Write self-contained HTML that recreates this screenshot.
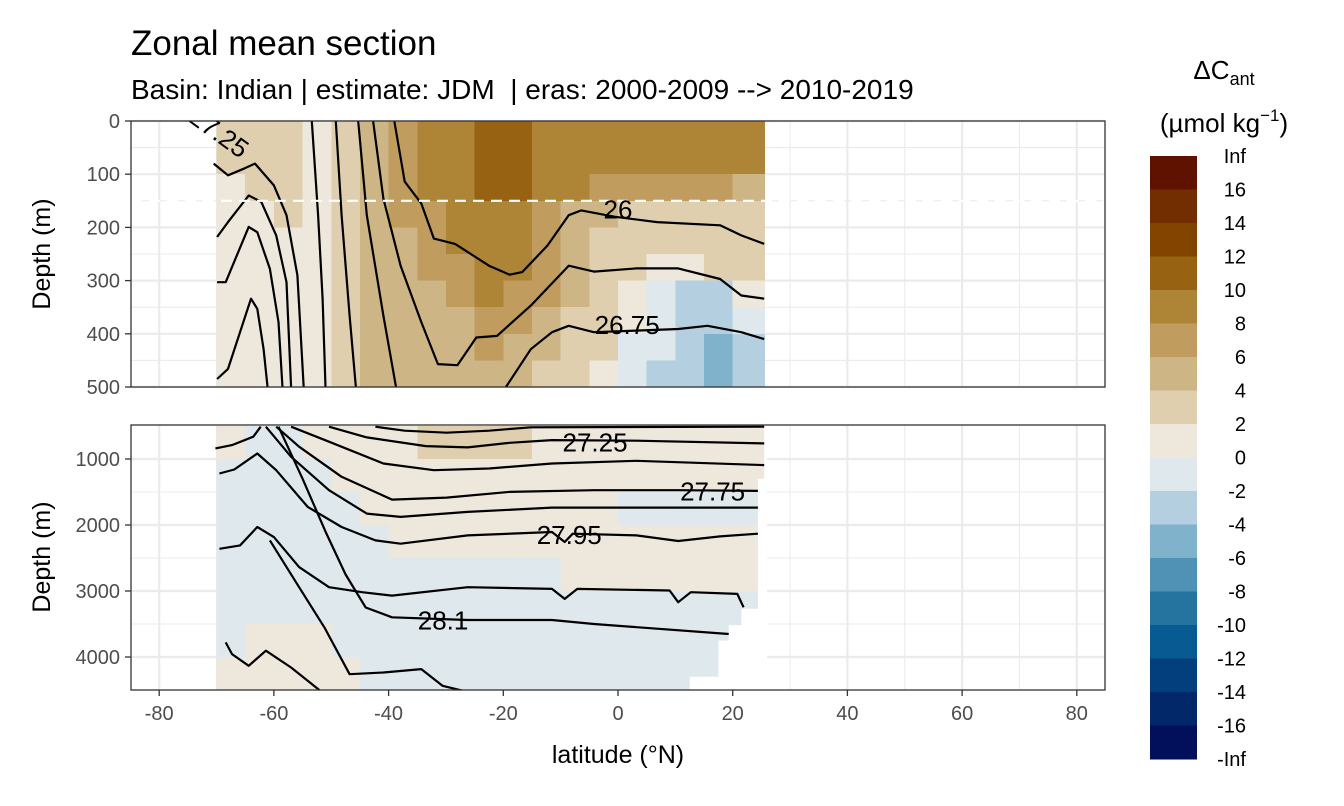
<!DOCTYPE html>
<html><head><meta charset="utf-8">
<style>
html,body{margin:0;padding:0;background:#fff;}
svg{display:block;font-family:"Liberation Sans",Arial,sans-serif;}
</style></head>
<body>
<svg id="chart" width="1344" height="806" viewBox="0 0 1344 806" xmlns="http://www.w3.org/2000/svg">
  <rect x="0" y="0" width="1344" height="806" fill="#fff"/>
  <text x="131" y="55" font-size="35" fill="#000">Zonal mean section</text>
  <text x="131" y="99" font-size="28" fill="#000" xml:space="preserve">Basin: Indian | estimate: JDM  | eras: 2000-2009 --&gt; 2010-2019</text>
  <text x="1224" y="79" font-size="26" text-anchor="middle" fill="#000">ΔC<tspan font-size="18" dy="6">ant</tspan></text>
  <text x="1224" y="132" font-size="26" text-anchor="middle" fill="#000">(µmol kg<tspan font-size="17" dy="-11">−1</tspan><tspan dy="11">)</tspan></text>
  <g id="gtop"></g>
  <g id="gbot"></g>
  <g id="gaxes"></g>
  <g id="glegend"></g>
</svg>
<script>
// ---------- data ----------
var topLats = [-70,-65,-60,-55,-50,-45,-40,-35,-30,-25,-20,-15,-10,-5,0,5,10,15,20];
var topDepths = [0,50,100,150,200,250,300,350,400,450];
var topVals = [
 [3,3,1,1,1,1,1,1,1,1],
 [3,3,3,1,1,1,1,1,1,1],
 [3,3,3,3,1,1,1,1,1,1],
 [1,1,1,1,1,1,1,1,1,1],
 [3,3,3,3,3,3,3,3,3,3],
 [5,5,5,5,5,5,5,5,5,5],
 [7,7,7,7,5,5,5,5,5,5],
 [9,9,9,7,7,7,5,5,5,5],
 [9,9,9,9,9,7,7,5,5,5],
 [11,11,11,9,9,9,9,7,7,5],
 [11,11,11,9,9,9,7,7,5,5],
 [9,9,9,7,7,7,7,5,5,3],
 [9,9,9,5,5,5,5,3,3,3],
 [9,9,7,5,3,3,3,3,3,1],
 [9,9,7,3,3,3,1,1,-1,-1],
 [9,9,7,3,3,1,-1,-1,-1,-3],
 [9,9,7,3,3,1,-3,-3,-3,-3],
 [9,9,7,3,3,3,-3,-3,-5,-5],
 [9,9,5,3,3,3,1,-1,-3,-3]
];
var botLats = [-70,-65,-60,-55,-50,-45,-40,-35,-30,-25,-20,-15,-10,-5,0,5,10,15,20];
var botDepths = [500,1000,1500,2000,2500,3000,3500,4000];
var botVals = [
 [1,-1,-1,-1,-1,-1,-1,1],
 [-1,-1,-1,-1,-1,-1,1,1],
 [-1,-1,-1,-1,-1,-1,1,1],
 [1,-1,-1,-1,-1,-1,1,1],
 [1,1,-1,-1,-1,-1,-1,1],
 [1,1,1,-1,-1,-1,-1,-1],
 [1,1,1,1,-1,-1,-1,-1],
 [3,1,1,1,-1,-1,-1,-1],
 [3,1,1,1,-1,-1,-1,-1],
 [3,1,1,1,-1,-1,-1,-1],
 [3,1,1,1,-1,-1,-1,-1],
 [1,1,1,1,-1,-1,-1,-1],
 [1,1,1,1,1,-1,-1,-1],
 [1,1,1,1,1,-1,-1,-1],
 [1,1,-1,1,1,-1,-1,-1],
 [1,1,-1,1,1,-1,-1,-1],
 [1,1,-1,1,1,-1,-1,-1],
 [1,1,-1,1,1,-1,-1,-1],
 [1,1,-1,1,1,-1,-1,-1]
];
var edgeDepth = [500,1300,1300,3270,3270,3520,3520,3750,3750,4300,4300,4500];
var edgeLat   = [25.5,25.5,24.4,24.4,21.5,21.5,19.3,19.3,17.5,17.5,12.5,12.5];
var topLines = [
 {lat:[-70.5,-68.0,-65.1,-63.3,-60.0,-57.8,-55.9,-54.8], dep:[80,102,89,80,121,177,290,501]},
 {lat:[-69.9,-68.0,-64.4,-62.2,-59.6,-57.8,-57.0], dep:[218,190,140,152,215,303,501]},
 {lat:[-69.9,-68.4,-64.4,-62.9,-60.7,-59.2,-58.5], dep:[303,303,199,209,278,378,501]},
 {lat:[-69.9,-68.0,-64.0,-62.9,-61.8,-61.1], dep:[485,466,334,353,429,501]},
 {lat:[-53.4,-52.3,-51.5,-51.0], dep:[0,177,334,501]},
 {lat:[-49.2,-48.2,-46.8,-45.7], dep:[0,177,366,501]},
 {lat:[-45.3,-43.8,-40.9,-38.7], dep:[0,177,366,501]},
 {lat:[-42.7,-40.9,-37.9,-34.3,-31.4,-28.0,-24.7,-21.1,-15.2,-8.6,-4.2,3.2,10.5,17.8,21.5,25.5], dep:[0,146,272,378,457,459,407,404,347,272,283,277,277,297,328,334]},
 {lat:[-39.0,-37.2,-34.3,-32.1,-28.4,-22.5,-18.9,-16.7,-12.3,-8.6,-6.4,-0.5,6.8,17.8,21.5,25.5], dep:[0,114,155,221,231,272,289,284,234,177,168,180,190,196,215,231]},
 {lat:[-19.6,-15.2,-11.5,-8.6,-4.2,3.2,10.5,15.6,21.5,25.5], dep:[501,429,397,385,397,394,391,385,397,410]}
];
var botLines = [
 {lat:[-42.3,-37.2,-29.9,-22.5,-15.2,25.5], dep:[510,571,602,571,520,510]},
 {lat:[-50.4,-43.8,-33.5,-26.2,-18.9,-11.5,3.2,25.5], dep:[510,672,804,824,754,713,723,764]},
 {lat:[-57.0,-50.4,-40.9,-32.1,-22.5,-11.5,3.2,25.5], dep:[510,738,1068,1169,1144,1068,1027,1093]},
 {lat:[-59.6,-55.6,-48.2,-39.4,-29.9,-18.9,-4.2,10.5,24.4], dep:[510,814,1270,1615,1585,1498,1473,1473,1483]},
 {lat:[-61.4,-57.0,-50.4,-43.8,-37.9,-26.2,-11.5,3.2,24.4], dep:[510,966,1473,1828,1878,1802,1737,1737,1737]},
 {lat:[-70.2,-67.3,-63.6,-62.3], dep:[840,789,662,510]},
 {lat:[-69.5,-66.9,-62.9,-59.6,-54.1,-48.2,-42.3,-37.9,-26.2,-11.5,-9.3,-7.9,3.2,10.5,17.8,24.4], dep:[1220,1159,916,1169,1726,2030,2233,2284,2157,2106,2258,2132,2157,2243,2172,2132]},
 {lat:[-69.5,-65.9,-62.9,-60.0,-55.6,-50.4,-44.6,-39.4,-26.2,-11.5,-9.3,-7.1,9.0,10.5,12.7,20.8,21.9], dep:[2360,2309,2030,2183,2638,2943,3018,3069,2943,2968,3120,2968,2993,3170,3018,3044,3247]},
 {lat:[-59.2,-55.0,-51.0,-47.5,-44.0,-39.4,-26.2,-11.5,-4.2,19.3], dep:[510,1300,2100,2750,3250,3399,3439,3439,3500,3652]},
 {lat:[-68.4,-67.3,-64.4,-61.4,-57.0,-51.9], dep:[3779,3956,4133,3905,4159,4513]},
 {lat:[-60.7,-55.6,-51.2,-46.8,-40.9,-34.3,-30.6,-26.9], dep:[2233,2943,3551,4260,4235,4184,4437,4513]}
];
var topLabels = [{t:"26",lat:0,dep:183},{t:"26.75",lat:1.6,dep:400}];
var botLabels = [{t:"27.25",lat:-4.0,dep:890},{t:"27.75",lat:16.5,dep:1630},{t:"27.95",lat:-8.5,dep:2290},{t:"28.1",lat:-30.5,dep:3580}];
var legendBreaks = ["Inf","16","14","12","10","8","6","4","2","0","-2","-4","-6","-8","-10","-12","-14","-16","-Inf"];
var legendColors = ["#5f1200","#722d01","#834400","#976212","#ae8436","#c09d5f","#cdb585","#dfcfae","#ede7dc","#dee8ed","#b3cfe0","#81b2cb","#4f92b5","#2574a0","#085b92","#033f7c","#02286a","#020f5a"];
var xTicks = [-80,-60,-40,-20,0,20,40,60,80];
var topYTicks = [0,100,200,300,400,500];
var botYTicks = [1000,2000,3000,4000];

(function(){
var NS="http://www.w3.org/2000/svg";
var PL=131, PR=1105;
function xs(lat){ return 618 + lat*5.735; }
function ysT(d){ return 121 + d*0.532; }
function ysB(d){ return 426 + (d-500)*0.066; }
function mk(tag, attrs, parent){ var e=document.createElementNS(NS,tag); for(var k in attrs) e.setAttribute(k,attrs[k]); parent.appendChild(e); return e; }
function colorOf(v){ return legendColors[8 - Math.floor(v/2)]; }

function drawPanel(g, y0, y1, ys, majorY, minorY){
  mk('rect',{x:PL,y:y0,width:PR-PL,height:y1-y0,fill:'#fff'},g);
  for(var lat=-90; lat<=90; lat+=10){ var x=xs(lat); if(x<PL||x>PR) continue;
    var major = (Math.abs(lat)%20===0);
    var ln=mk('line',{x1:x,x2:x,y1:y0,y2:y1,stroke:'#ebebeb','stroke-width':major?2.2:1.1},g);
    
     }
  majorY.forEach(function(d){ var ln=mk('line',{x1:PL,x2:PR,y1:ys(d),y2:ys(d),stroke:'#ebebeb','stroke-width':2.2},g);
    
     });
  minorY.forEach(function(d){ var ln=mk('line',{x1:PL,x2:PR,y1:ys(d),y2:ys(d),stroke:'#ebebeb','stroke-width':1.1},g);
    
     });
}
function drawCells(g, lats, deps, vals, step, ys, maxD){
  lats.forEach(function(lat,i){
    deps.forEach(function(d,j){
      var v = vals[i][j]; if(v===null||v===undefined) return;
      var x0=xs(lat), x1=xs(i===lats.length-1?25.5:lat+5);
      var y0=ys(d), y1=ys(Math.min(d+step,maxD));
      var r=mk('rect',{x:x0,y:y0,width:x1-x0+0.6,height:y1-y0+0.6,fill:colorOf(v),'shape-rendering':'crispEdges'},g);
      
      
    });
  });
}
function drawLines(g, arr, ys){
  arr.forEach(function(L){
    var pts = L.lat.map(function(la,k){ return xs(la).toFixed(1)+','+ys(L.dep[k]).toFixed(1); }).join(' ');
    var p=mk('polyline',{points:pts,fill:'none',stroke:'#000','stroke-width':2.2,'stroke-linejoin':'round'},g);
    
    
  });
}
function drawLabels(g, arr, ys){
  arr.forEach(function(L){
    var t=mk('text',{x:xs(L.lat),y:ys(L.dep),'font-size':26,'text-anchor':'middle',fill:'#000'},g);
    t.textContent=L.t;
    
    
  });
}

var gT=document.getElementById('gtop');
var clipT=mk('clipPath',{id:'cT'},gT); mk('rect',{x:PL,y:121,width:PR-PL,height:266},clipT);
drawPanel(gT,121,387,ysT,[0,100,200,300,400,500],[50,150,250,350,450]);
var gTd=mk('g',{'clip-path':'url(#cT)'},gT);
drawCells(gTd, topLats, topDepths, topVals, 50, ysT, 500);
drawLines(gTd, topLines, ysT);
var dash=mk('line',{x1:PL,x2:PR,y1:ysT(150),y2:ysT(150),stroke:'#fff','stroke-width':2.2,'stroke-dasharray':'11,7'},gTd);


drawLabels(gTd, topLabels, ysT);
var lab1=mk('text',{x:0,y:0,'font-size':26,'text-anchor':'middle',fill:'#000',transform:'translate(214,140) rotate(36)'},gTd);
lab1.textContent='27.25';


mk('rect',{x:PL,y:121,width:PR-PL,height:266,fill:'none',stroke:'#333','stroke-width':1.3},gT);

var gB=document.getElementById('gbot');
var clipB=mk('clipPath',{id:'cB'},gB); mk('rect',{x:PL,y:425,width:PR-PL,height:265},clipB);
drawPanel(gB,425,690,ysB,[1000,2000,3000,4000],[1500,2500,3500]);
var gBd=mk('g',{'clip-path':'url(#cB)'},gB);
drawCells(gBd, botLats, botDepths, botVals, 500, ysB, 4500);
var mp='M'+xs(26)+','+ysB(500);
edgeDepth.forEach(function(d,k){ mp+=' L'+xs(edgeLat[k]).toFixed(1)+','+ysB(d).toFixed(1); });
mp+=' L'+xs(26)+','+ysB(4500)+' Z';
var mask=mk('path',{d:mp,fill:'#fff'},gBd);


drawLines(gBd, botLines, ysB);
drawLabels(gBd, botLabels, ysB);
mk('rect',{x:PL,y:425,width:PR-PL,height:265,fill:'none',stroke:'#333','stroke-width':1.3},gB);

var gA=document.getElementById('gaxes');
xTicks.forEach(function(v){
  var x=xs(v);
  var tk=mk('line',{x1:x,x2:x,y1:690,y2:696,stroke:'#333','stroke-width':1.3},gA);
  
  
  var t=mk('text',{x:x,y:720,'font-size':20,'text-anchor':'middle',fill:'#4d4d4d'},gA);
  t.textContent=String(v);
  
  
});
function yTick(v, y){
  var tk=mk('line',{x1:125,x2:131,y1:y,y2:y,stroke:'#333','stroke-width':1.3},gA);
  
  
  var t=mk('text',{x:120,y:y+7,'font-size':20,'text-anchor':'end',fill:'#4d4d4d'},gA);
  t.textContent=String(v);
  
  
}
topYTicks.forEach(function(v){ yTick(v, ysT(v)); });
botYTicks.forEach(function(v){ yTick(v, ysB(v)); });
[['y-axis-title-upper',254],['y-axis-title-lower',557]].forEach(function(a){
  var t=mk('text',{x:0,y:0,'font-size':25,'text-anchor':'middle',fill:'#000',transform:'translate(50,'+a[1]+') rotate(-90)'},gA);
  t.textContent='Depth (m)';
  
  
});
var xt=mk('text',{x:618,y:763,'font-size':25,'text-anchor':'middle',fill:'#000'},gA);
xt.textContent='latitude (°N)';



var gL=document.getElementById('glegend');
var bh=(759-156)/legendColors.length;
legendColors.forEach(function(c,i){
  var r=mk('rect',{x:1150,y:156+i*bh,width:47,height:bh+0.5,fill:c,'shape-rendering':'crispEdges'},gL);
  
  
});
legendBreaks.forEach(function(s,i){
  var t=mk('text',{x:1246,y:156+i*bh+7,'font-size':20,'text-anchor':'end',fill:'#000'},gL);
  t.textContent=s;
  
  
});
})();
</script>
</body></html>
